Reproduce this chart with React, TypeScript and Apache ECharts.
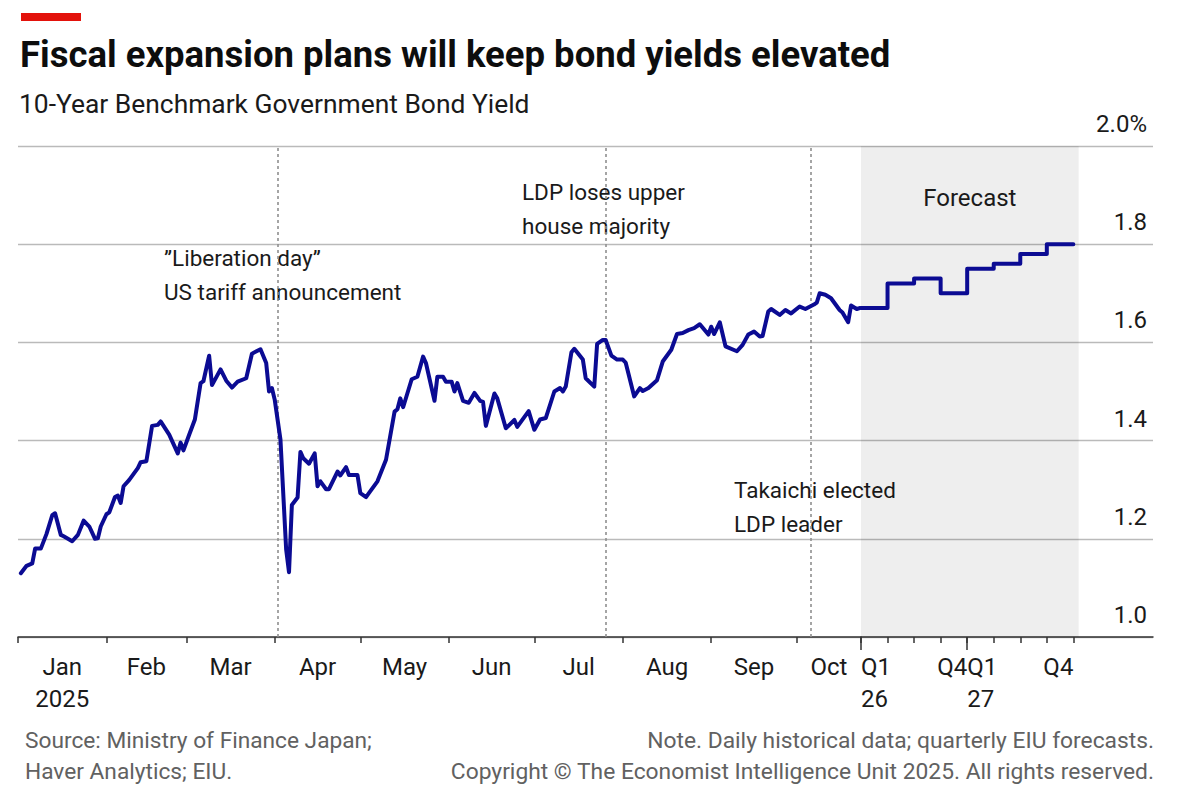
import React, { useEffect, useRef } from "react";
import * as echarts from "echarts";

// Daily 10-year JGB yield, 2025 (per cent)
const historyDates = [
  "2025-01-02", "2025-01-04", "2025-01-06", "2025-01-07", "2025-01-09", "2025-01-11", "2025-01-13", "2025-01-14",
  "2025-01-16", "2025-01-17", "2025-01-20", "2025-01-22", "2025-01-24", "2025-01-26", "2025-01-28", "2025-01-29",
  "2025-01-30", "2025-02-01", "2025-02-02", "2025-02-04", "2025-02-05", "2025-02-06", "2025-02-07", "2025-02-09",
  "2025-02-12", "2025-02-13", "2025-02-15", "2025-02-17", "2025-02-19", "2025-02-20", "2025-02-23", "2025-02-26",
  "2025-02-27", "2025-02-28", "2025-03-02", "2025-03-04", "2025-03-06", "2025-03-07", "2025-03-09", "2025-03-10",
  "2025-03-13", "2025-03-15", "2025-03-17", "2025-03-19", "2025-03-22", "2025-03-24", "2025-03-27", "2025-03-29",
  "2025-03-30", "2025-03-31", "2025-04-01", "2025-04-03", "2025-04-05", "2025-04-06", "2025-04-07", "2025-04-09",
  "2025-04-10", "2025-04-11", "2025-04-13", "2025-04-15", "2025-04-16", "2025-04-17", "2025-04-19", "2025-04-20",
  "2025-04-23", "2025-04-24", "2025-04-26", "2025-04-27", "2025-04-30", "2025-05-01", "2025-05-03", "2025-05-04",
  "2025-05-07", "2025-05-10", "2025-05-13", "2025-05-14", "2025-05-15", "2025-05-16", "2025-05-19", "2025-05-21",
  "2025-05-23", "2025-05-24", "2025-05-27", "2025-05-28", "2025-05-30", "2025-05-31", "2025-06-02", "2025-06-03",
  "2025-06-04", "2025-06-06", "2025-06-08", "2025-06-10", "2025-06-12", "2025-06-13", "2025-06-14", "2025-06-17",
  "2025-06-18", "2025-06-21", "2025-06-24", "2025-06-25", "2025-06-29", "2025-07-01", "2025-07-03", "2025-07-05",
  "2025-07-08", "2025-07-10", "2025-07-11", "2025-07-12", "2025-07-14", "2025-07-15", "2025-07-18", "2025-07-19",
  "2025-07-22", "2025-07-23", "2025-07-25", "2025-07-26", "2025-07-28", "2025-07-30", "2025-08-01", "2025-08-02",
  "2025-08-05", "2025-08-07", "2025-08-08", "2025-08-10", "2025-08-13", "2025-08-15", "2025-08-18", "2025-08-20",
  "2025-08-22", "2025-08-24", "2025-08-26", "2025-08-28", "2025-08-31", "2025-09-01", "2025-09-02", "2025-09-04",
  "2025-09-06", "2025-09-10", "2025-09-12", "2025-09-14", "2025-09-16", "2025-09-18", "2025-09-19", "2025-09-21",
  "2025-09-22", "2025-09-25", "2025-09-27", "2025-09-29", "2025-10-02", "2025-10-04", "2025-10-07", "2025-10-08",
  "2025-10-09", "2025-10-11", "2025-10-13", "2025-10-16", "2025-10-17", "2025-10-19", "2025-10-20", "2025-10-22",
  "2025-10-23",
];

const historyYields = [
  1.13, 1.145, 1.15, 1.18, 1.18, 1.21, 1.248, 1.252,
  1.208, 1.205, 1.195, 1.208, 1.237, 1.225, 1.2, 1.201,
  1.225, 1.25, 1.254, 1.285, 1.288, 1.273, 1.307, 1.32,
  1.344, 1.356, 1.358, 1.43, 1.432, 1.439, 1.412, 1.374,
  1.396, 1.38, 1.412, 1.443, 1.517, 1.521, 1.573, 1.513,
  1.545, 1.522, 1.508, 1.52, 1.527, 1.577, 1.586, 1.558,
  1.5, 1.507, 1.483, 1.402, 1.178, 1.132, 1.269, 1.284,
  1.377, 1.364, 1.353, 1.374, 1.307, 1.317, 1.301, 1.301,
  1.337, 1.329, 1.346, 1.33, 1.33, 1.293, 1.285, 1.293,
  1.317, 1.361, 1.459, 1.464, 1.486, 1.468, 1.525, 1.53,
  1.571, 1.558, 1.481, 1.53, 1.53, 1.52, 1.52, 1.5,
  1.517, 1.481, 1.477, 1.497, 1.481, 1.479, 1.43, 1.496,
  1.486, 1.425, 1.442, 1.428, 1.46, 1.422, 1.443, 1.446,
  1.5, 1.507, 1.5, 1.51, 1.58, 1.587, 1.565, 1.527,
  1.51, 1.597, 1.605, 1.605, 1.573, 1.565, 1.565, 1.559,
  1.49, 1.507, 1.501, 1.507, 1.523, 1.561, 1.585, 1.617,
  1.619, 1.625, 1.629, 1.637, 1.616, 1.632, 1.617, 1.641,
  1.592, 1.582, 1.595, 1.616, 1.622, 1.612, 1.613, 1.663,
  1.668, 1.656, 1.666, 1.659, 1.673, 1.668, 1.677, 1.681,
  1.7, 1.697, 1.69, 1.666, 1.661, 1.641, 1.675, 1.668,
  1.67,
];

// Quarterly EIU forecasts
const forecastQuarters = ["Q1 26", "Q2 26", "Q3 26", "Q4 26", "Q1 27", "Q2 27", "Q3 27", "Q4 27"];
const forecastYields = [1.67, 1.72, 1.73, 1.7, 1.75, 1.76, 1.78, 1.8];

// Month axis for the daily history
const monthStarts = [
  "2025-01-01", "2025-02-01", "2025-03-01", "2025-04-01", "2025-05-01",
  "2025-06-01", "2025-07-01", "2025-08-01", "2025-09-01", "2025-10-01",
];
const monthNames = ["Jan", "Feb", "Mar", "Apr", "May", "Jun", "Jul", "Aug", "Sep", "Oct"];
const historyYear = "2025";
const historyEnd = "2025-10-23";

// Events marked with dotted rules
const eventDates = ["2025-04-02", "2025-07-26", "2025-10-06"];
const eventNotes = [
  "\u201DLiberation day\u201D\nUS tariff announcement",
  "LDP loses upper\nhouse majority",
  "Takaichi elected\nLDP leader",
];

const FONT = "Roboto";
const INK = "#1a1a1a";
const GREY_TEXT = "#616161";
const LINE_BLUE = "#0b0b93";
const AXIS_INK = "#333333";
const GRID_GREY = "#bababa";

function dayIndex(date: string): number {
  return (Date.parse(date + "T00:00:00Z") - Date.parse("2025-01-01T00:00:00Z")) / 86400000;
}

function buildOption() {
  const histMax = dayIndex(historyEnd) + 0.5;
  const monthTicks = monthStarts.map(dayIndex);
  const monthLabelPos: number[] = [];
  const monthLabelText = new Map<string, string>();
  monthTicks.forEach((start, i) => {
    const end = i + 1 < monthTicks.length ? monthTicks[i + 1] : histMax;
    const mid = (start + end) / 2;
    monthLabelPos.push(mid);
    monthLabelText.set(mid.toFixed(2), monthNames[i] + (i === 0 ? "\n" + historyYear : ""));
  });

  // Quarter boundaries; Q1 labels hang from the start of their year, Q4 labels end at the year's close
  const quarterTicks = forecastQuarters.map((_, i) => i).concat([forecastQuarters.length]);
  const yearTicks: number[] = [];
  const yearLabelText = new Map<string, string>();
  const q4LabelPos: number[] = [];
  const q4LabelText = new Map<string, string>();
  forecastQuarters.forEach((q, i) => {
    const [qq, yy] = q.split(" ");
    if (qq === "Q1") {
      yearTicks.push(i);
      yearLabelText.set(i.toFixed(2), `${qq}\n${yy}`);
    }
    if (qq === "Q4") {
      q4LabelPos.push(i + 1);
      q4LabelText.set((i + 1).toFixed(2), qq);
    }
  });

  const forecastSteps = forecastYields.map((v, i) => [i, v]);
  forecastSteps.push([forecastYields.length, forecastYields[forecastYields.length - 1]]);

  const axisLabelStyle = {
    fontSize: 24,
    lineHeight: 32,
    color: INK,
    fontFamily: FONT,
    margin: 14,
    hideOverlap: false,
  };
  const tickStyle = { color: AXIS_INK, width: 1.5 };

  const lineStyle = { color: LINE_BLUE, width: 4, cap: "round", join: "round" };

  const noteTops = [241, 175, 473];
  const noteLefts = [164, 522, 734];

  return {
    animation: false,
    backgroundColor: "#ffffff",
    textStyle: { fontFamily: FONT },
    grid: [
      { left: 18, top: 146, width: 843, bottom: 163 },
      { left: 861, top: 146, width: 292, bottom: 163 },
    ],
    xAxis: [
      {
        type: "value",
        gridIndex: 0,
        min: 0,
        max: histMax,
        axisLine: { show: true, lineStyle: tickStyle },
        axisTick: { show: true, customValues: monthTicks, length: 6, lineStyle: tickStyle },
        axisLabel: {
          ...axisLabelStyle,
          customValues: monthLabelPos,
          formatter: (v: number) => monthLabelText.get(v.toFixed(2)) ?? "",
        },
        splitLine: { show: false },
      },
      {
        type: "value",
        gridIndex: 1,
        min: 0,
        max: 11,
        axisLine: { show: true, lineStyle: tickStyle },
        axisTick: { show: true, customValues: quarterTicks, length: 6, lineStyle: tickStyle },
        axisLabel: {
          ...axisLabelStyle,
          align: "right",
          customValues: q4LabelPos,
          formatter: (v: number) => q4LabelText.get(v.toFixed(2)) ?? "",
        },
        splitLine: { show: false },
      },
      {
        type: "value",
        gridIndex: 1,
        position: "bottom",
        min: 0,
        max: 11,
        axisLine: { show: false },
        axisTick: { show: true, customValues: yearTicks, length: 13, lineStyle: tickStyle },
        axisLabel: {
          ...axisLabelStyle,
          align: "left",
          customValues: yearTicks,
          formatter: (v: number) => yearLabelText.get(v.toFixed(2)) ?? "",
        },
        splitLine: { show: false },
      },
    ],
    yAxis: [
      {
        type: "value",
        gridIndex: 0,
        min: 1,
        max: 2,
        interval: 0.2,
        axisLine: { show: false },
        axisTick: { show: false },
        axisLabel: { show: false },
        splitLine: { show: true, lineStyle: { color: GRID_GREY, width: 1.3 } },
      },
      {
        type: "value",
        gridIndex: 1,
        position: "right",
        min: 1,
        max: 2,
        interval: 0.2,
        axisLine: { show: false },
        axisTick: { show: false },
        axisLabel: {
          inside: true,
          margin: 6,
          align: "right",
          verticalAlign: "bottom",
          padding: [0, 0, 10, 0],
          fontSize: 24,
          color: INK,
          fontFamily: FONT,
          formatter: (v: number) => (Math.abs(v - 2) < 1e-9 ? "2.0%" : v.toFixed(1)),
        },
        splitLine: { show: true, lineStyle: { color: GRID_GREY, width: 1.3 } },
      },
    ],
    series: [
      {
        type: "line",
        name: "10-year yield",
        xAxisIndex: 0,
        yAxisIndex: 0,
        data: historyDates.map((d, i) => [dayIndex(d), historyYields[i]]),
        showSymbol: false,
        symbol: "none",
        lineStyle,
        z: 4,
        markLine: {
          silent: true,
          symbol: ["none", "none"],
          label: { show: false },
          lineStyle: { color: "#8f8f8f", type: [3, 3], width: 1.6 },
          data: eventDates.map((d) => ({ xAxis: dayIndex(d) })),
          z: 1,
        },
      },
      {
        type: "line",
        name: "EIU forecast",
        xAxisIndex: 1,
        yAxisIndex: 1,
        data: forecastSteps,
        step: "end",
        showSymbol: false,
        symbol: "none",
        lineStyle,
        z: 4,
        markArea: {
          silent: true,
          itemStyle: { color: "rgba(0,0,0,0.065)" },
          label: {
            show: true,
            position: "insideTop",
            distance: 40,
            fontSize: 24,
            color: INK,
            fontFamily: FONT,
          },
          data: [[{ name: "Forecast", xAxis: 0 }, { xAxis: forecastQuarters.length + 0.2 }]],
        },
      },
    ],
    graphic: [
      { type: "rect", left: 21, top: 13, shape: { width: 60, height: 8 }, style: { fill: "#e3120b" } },
      {
        type: "text",
        x: 20,
        y: 54,
        style: {
          text: "Fiscal expansion plans will keep bond yields elevated",
          fontFamily: FONT,
          fontWeight: "bold",
          fontSize: 36.5,
          fill: "#0d0d0d",
          verticalAlign: "middle",
        },
      },
      {
        type: "text",
        x: 19,
        y: 104,
        style: {
          text: "10-Year Benchmark Government Bond Yield",
          fontFamily: FONT,
          fontSize: 26.4,
          fill: INK,
          verticalAlign: "middle",
        },
      },
      ...eventNotes.map((note, i) => ({
        type: "text",
        x: noteLefts[i],
        y: noteTops[i],
        style: {
          text: note,
          fontFamily: FONT,
          fontSize: 22.5,
          lineHeight: 34,
          fill: INK,
          verticalAlign: "top",
        },
      })),
      {
        type: "text",
        x: 25,
        y: 725,
        style: {
          text: "Source: Ministry of Finance Japan;\nHaver Analytics; EIU.",
          fontFamily: FONT,
          fontSize: 22.7,
          lineHeight: 31,
          fill: GREY_TEXT,
          verticalAlign: "top",
        },
      },
      {
        type: "text",
        x: 1154,
        y: 725,
        style: {
          text:
            "Note. Daily historical data; quarterly EIU forecasts.\nCopyright \u00A9 The Economist Intelligence Unit 2025. All rights reserved.",
          fontFamily: FONT,
          fontSize: 22.8,
          lineHeight: 31,
          fill: GREY_TEXT,
          align: "right",
          verticalAlign: "top",
        },
      },
    ],
  };
}

export default function App() {
  const ref = useRef<HTMLDivElement>(null);

  useEffect(() => {
    document.body.style.margin = "0";
    if (!ref.current) return;
    const chart = echarts.init(ref.current, undefined, { renderer: "svg" });
    chart.setOption(buildOption() as any);
    return () => {
      chart.dispose();
    };
  }, []);

  return <div ref={ref} style={{ width: 1200, height: 800, background: "#fff" }} />;
}
